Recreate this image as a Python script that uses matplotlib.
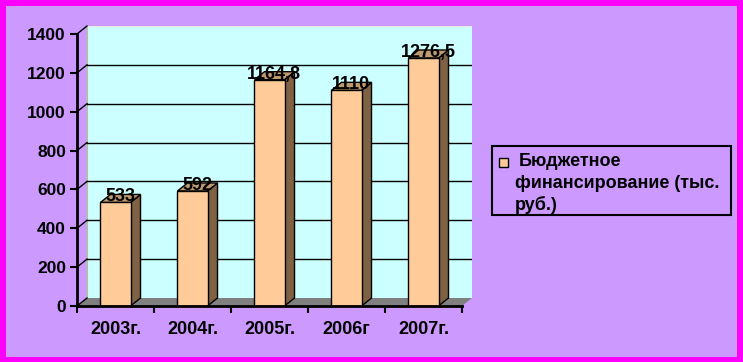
import matplotlib.pyplot as plt
from matplotlib.patches import Rectangle, Polygon

plt.rcParams['font.family'] = ['Liberation Sans', 'DejaVu Sans']
plt.rcParams['font.weight'] = 'bold'

years = ['2003г.', '2004г.', '2005г.', '2006г', '2007г.']
budget = [533, 592, 1164.8, 1110, 1276.5]
value_labels = ['533', '592', '1164,8', '1110', '1276,5']
yticks = [0, 200, 400, 600, 800, 1000, 1200, 1400]
series_name = 'Бюджетное финансирование (тыс. руб.)'

W, H = 743, 362
fig = plt.figure(figsize=(W / 100, H / 100), dpi=100)
fig.patch.set_facecolor('#FF00FF')
fig.add_artist(Rectangle((6 / W, 5 / H), 731 / W, 351 / H, transform=fig.transFigure,
                         facecolor='#CC99FF', edgecolor='none', zorder=0))

# front plane: x from 77px to 462px, y 0 at 306px, 1400 at 34px
ax = fig.add_axes([77 / W, 56 / H, 395 / W, 280 / H])
ax.set_facecolor('none')
for s in ax.spines.values():
    s.set_visible(False)

n = len(years)
ymax = yticks[-1]
DX = 10 / 77            # depth offset in x (data units)
DY = 8 / (272 / ymax)   # depth offset in y (data units)
ax.set_xlim(-0.5, n - 0.5 + DX)
ax.set_ylim(0, ymax + DY)

# back wall
ax.add_patch(Rectangle((-0.5 + DX, DY), n, ymax, facecolor='#CCFFFF', edgecolor='none', zorder=1))
ax.plot([-0.5 + DX, -0.5 + DX], [DY, ymax + DY], color='#B8B8B8', lw=1.5, zorder=2)
ax.plot([-0.5 + DX, n - 0.5 + DX], [ymax + DY, ymax + DY], color='#E8E8E8', lw=1, zorder=2)

# floor
ax.add_patch(Polygon([(-0.5, 0), (n - 0.5, 0), (n - 0.5 + DX, DY), (-0.5 + DX, DY)],
                     closed=True, facecolor='#808080', edgecolor='none', zorder=2))

# gridlines on wall + diagonal connectors
for v in yticks[1:-1]:
    ax.plot([-0.5 + DX, n - 0.5 + DX], [v + DY, v + DY], color='black', lw=1, zorder=2)
for v in yticks:
    ax.plot([-0.5, -0.5 + DX], [v, v + DY], color='black', lw=1, zorder=2, clip_on=False)

# bars
w = 0.39
for i, v in enumerate(budget):
    x0, x1 = i - w / 2, i + w / 2
    ax.add_patch(Polygon([(x1, 0), (x1 + DX, DY), (x1 + DX, v + DY), (x1, v)], closed=True,
                         facecolor='#7F6244', edgecolor='black', lw=1, zorder=3))
    ax.add_patch(Polygon([(x0, v), (x1, v), (x1 + DX, v + DY), (x0 + DX, v + DY)], closed=True,
                         facecolor='#BF9A6E', edgecolor='black', lw=1, zorder=3))
    ax.add_patch(Rectangle((x0, 0), w, v, facecolor='#FFCC99', edgecolor='black', lw=1, zorder=4))
    ax.text(i + 0.06, v + 5, value_labels[i], ha='center', va='baseline',
            fontsize=13, fontweight='bold', zorder=6)

# axis lines
ax.plot([-0.5, -0.5], [0, ymax], color='black', lw=2, zorder=5, clip_on=False)
ax.plot([-0.5, n - 0.5], [0, 0], color='black', lw=2, zorder=5, clip_on=False)

ax.set_yticks(yticks)
ax.tick_params(axis='y', length=5, width=1.5, pad=3, labelsize=12.5)
ax.set_xticks([k - 0.5 for k in range(n + 1)])
ax.set_xticklabels([])
ax.set_xticks(range(n), minor=True)
ax.set_xticklabels(years, minor=True)
ax.tick_params(axis='x', which='major', length=5, width=1.5)
ax.tick_params(axis='x', which='minor', length=0, pad=11, labelsize=13)

# legend box
def fx(px):
    return px / W

def fy(py):
    return (H - py) / H

fig.add_artist(Rectangle((fx(492), fy(215)), (731 - 492) / W, (215 - 146) / H,
                         transform=fig.transFigure, facecolor='none', edgecolor='black', lw=1.5))
fig.add_artist(Rectangle((fx(499), fy(167)), 9 / W, 9 / H, transform=fig.transFigure,
                         facecolor='#FFCC99', edgecolor='black', lw=1))
words = series_name.split(' ')
legend_lines = [words[0], ' '.join(words[1:3]), words[3]]
fig.text(fx(519), fy(162), legend_lines[0], ha='left', va='center', fontsize=13, fontweight='bold')
fig.text(fx(515), fy(183.5), legend_lines[1], ha='left', va='center', fontsize=13, fontweight='bold')
fig.text(fx(515), fy(205), legend_lines[2], ha='left', va='center', fontsize=13, fontweight='bold')

fig.savefig('out.png', dpi=100, facecolor=fig.get_facecolor())
